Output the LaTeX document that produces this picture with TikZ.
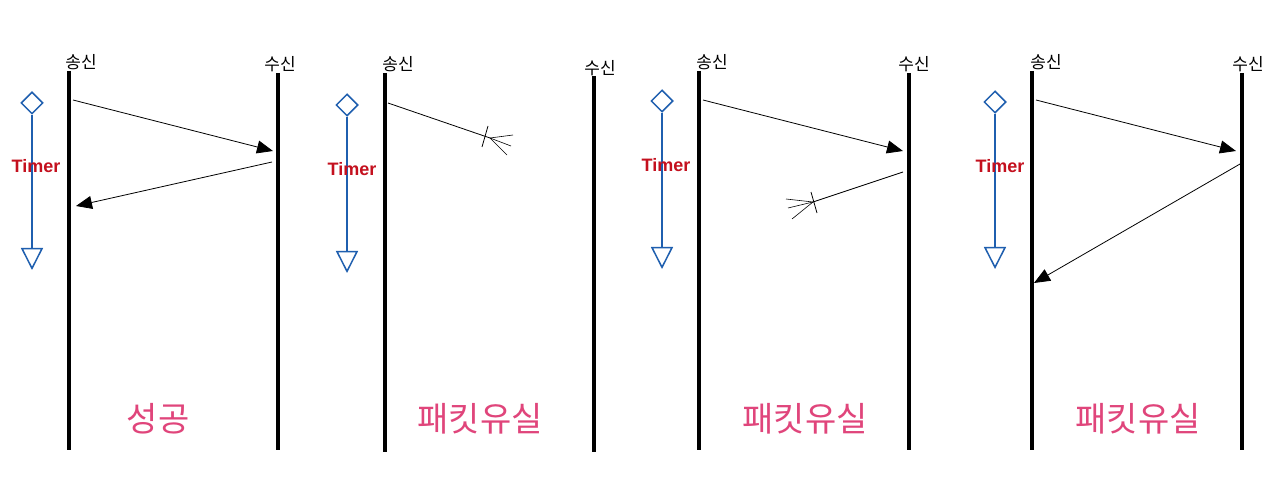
\documentclass[tikz,border=0pt]{standalone}
\usepackage{fontspec}
\setmainfont{Liberation Sans}
\newfontfamily\kr{Noto Sans CJK KR}
\usetikzlibrary{arrows.meta,shapes.geometric}
\definecolor{tblue}{HTML}{1F5FAF}
\definecolor{tred}{HTML}{C4101E}
\definecolor{tpink}{HTML}{E0457B}
\tikzset{
  life/.style={line width=4.5pt, black},
  msg/.style={line width=0.8pt, black, -{Triangle[length=16pt,width=13pt]}},
  lost/.style={line width=0.8pt, black},
  fork/.style={line width=0.6pt, black},
  who/.style={font=\kr\fontsize{17}{17}\selectfont, inner sep=0pt},
  result/.style={font=\kr\fontsize{34}{34}\selectfont, text=tpink, inner sep=0pt},
  tdia/.style={shape=diamond, draw=tblue, line width=1.5pt, fill=white, minimum width=22pt, minimum height=22pt, inner sep=0pt},
  tline/.style={draw=tblue, line width=1.8pt, -{Triangle[open,length=22pt,width=22pt,line width=1.5pt,fill=white]}},
  ttext/.style={font=\bfseries\fontsize{18}{18}\selectfont, text=tred, inner sep=0pt},
}
\begin{document}
\begin{tikzpicture}[x=1pt,y=-1pt]
\useasboundingbox[fill=white] (0,0) rectangle (1280,481);

% ---------- Panel 1 : success
\coordinate (s1t) at (69,71); \coordinate (s1b) at (69,450);
\coordinate (r1t) at (278,73); \coordinate (r1b) at (278,450);
\draw[life] (s1t) -- (s1b); \draw[life] (r1t) -- (r1b);
\node[who] (ls1) at (81,62) {송신};
\node[who] (lr1) at (280,64) {수신};
\coordinate (a1s) at (73,100); \coordinate (a1e) at (273,151);
\draw[msg] (a1s) -- (a1e);
\coordinate (b1s) at (272,162); \coordinate (b1e) at (76,206);
\draw[msg] (b1s) -- (b1e);
\node[tdia] (d1) at (32,103) {};
\coordinate (e1) at (32,270);
\draw[tline] (d1.south) -- (e1);
\node[ttext] (tt1) at (36,166) {Timer};
\node[result] (res1) at (158,419) {성공};

% ---------- Panel 2 : packet lost (request)
\coordinate (s2t) at (385,73); \coordinate (s2b) at (385,452);
\coordinate (r2t) at (594,76); \coordinate (r2b) at (594,452);
\draw[life] (s2t) -- (s2b); \draw[life] (r2t) -- (r2b);
\node[who] (ls2) at (398,64) {송신};
\node[who] (lr2) at (600,68) {수신};
\coordinate (a2s) at (388,103); \coordinate (a2e) at (490,138);
\draw[lost] (a2s) -- (a2e);
\coordinate (x2a) at (488,126); \coordinate (x2b) at (482,147);
\draw[lost] (x2a) -- (x2b);
\coordinate (f2a) at (513,135); \coordinate (f2b) at (511,146); \coordinate (f2c) at (507,155);
\draw[fork] (a2e) -- (f2a); \draw[fork] (a2e) -- (f2b); \draw[fork] (a2e) -- (f2c);
\node[tdia] (d2) at (347,105) {};
\coordinate (e2) at (347,273);
\draw[tline] (d2.south) -- (e2);
\node[ttext] (tt2) at (352,169) {Timer};
\node[result] (res2) at (480,419) {패킷유실};

% ---------- Panel 3 : packet lost (reply)
\coordinate (s3t) at (699,71); \coordinate (s3b) at (699,450);
\coordinate (r3t) at (909,73); \coordinate (r3b) at (909,450);
\draw[life] (s3t) -- (s3b); \draw[life] (r3t) -- (r3b);
\node[who] (ls3) at (712,62) {송신};
\node[who] (lr3) at (914,64) {수신};
\coordinate (a3s) at (703,100); \coordinate (a3e) at (903,151);
\draw[msg] (a3s) -- (a3e);
\coordinate (b3s) at (903,172); \coordinate (b3e) at (813,202);
\draw[lost] (b3s) -- (b3e);
\coordinate (x3a) at (811,192); \coordinate (x3b) at (817,213);
\draw[lost] (x3a) -- (x3b);
\coordinate (f3a) at (786,199); \coordinate (f3b) at (788,208); \coordinate (f3c) at (792,219);
\draw[fork] (b3e) -- (f3a); \draw[fork] (b3e) -- (f3b); \draw[fork] (b3e) -- (f3c);
\node[tdia] (d3) at (662,101) {};
\coordinate (e3) at (662,269);
\draw[tline] (d3.south) -- (e3);
\node[ttext] (tt3) at (666,165) {Timer};
\node[result] (res3) at (805,419) {패킷유실};

% ---------- Panel 4 : late reply
\coordinate (s4t) at (1032,71); \coordinate (s4b) at (1032,450);
\coordinate (r4t) at (1242,73); \coordinate (r4b) at (1242,450);
\draw[life] (s4t) -- (s4b); \draw[life] (r4t) -- (r4b);
\node[who] (ls4) at (1046,62) {송신};
\node[who] (lr4) at (1248,64) {수신};
\coordinate (a4s) at (1036,100); \coordinate (a4e) at (1236,151);
\draw[msg] (a4s) -- (a4e);
\coordinate (b4s) at (1240,164); \coordinate (b4e) at (1034,283);
\draw[msg] (b4s) -- (b4e);
\node[tdia] (d4) at (995,102) {};
\coordinate (e4) at (995,269);
\draw[tline] (d4.south) -- (e4);
\node[ttext] (tt4) at (1000,166) {Timer};
\node[result] (res4) at (1138,419) {패킷유실};
\end{tikzpicture}
\end{document}
